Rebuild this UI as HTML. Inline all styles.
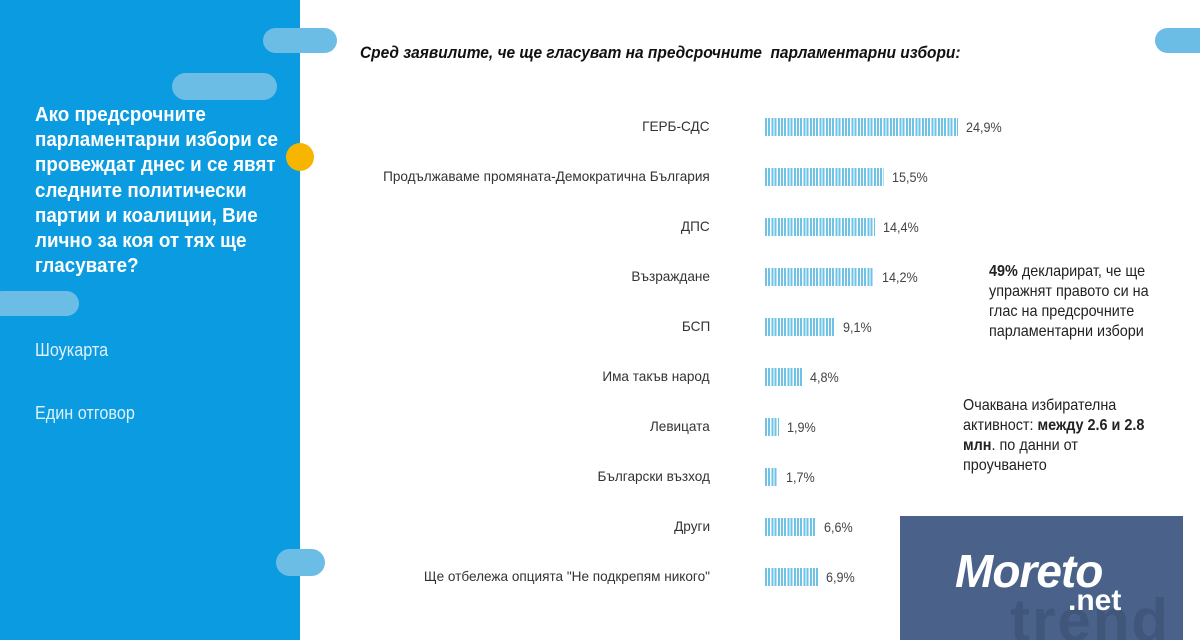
<!DOCTYPE html>
<html><head><meta charset="utf-8"><style>
html,body{margin:0;width:1200px;height:640px;overflow:hidden}
body{position:relative;background:#fff;font-family:"Liberation Sans",sans-serif}
.a{position:absolute}
.pill{position:absolute;background:#6cbde6;border-radius:14px}
.lbl{position:absolute;right:490px;font-size:14px;color:#333;white-space:nowrap;transform:scaleX(.97);transform-origin:right center}
.bar{position:absolute;left:765px;height:18px;background:repeating-linear-gradient(90deg,#6cc3e6 0 2px,#fff 2px 3.2px)}
.val{position:absolute;font-size:14px;color:#444;transform:scaleX(.9);transform-origin:left center}
.q{color:#fff;font-weight:bold;font-size:20px;line-height:25.2px;transform:scaleX(.94);transform-origin:left top;width:280px}
.side{color:#dff1fb;font-size:18px;transform:scaleX(.9);transform-origin:left top}
.note{font-size:16px;color:#222;line-height:20px;transform:scaleX(.9);transform-origin:left top}
</style></head><body>
<div class="a" style="left:0;top:0;width:300px;height:640px;background:#0a9be0"></div>
<div class="pill" style="left:263px;top:28px;width:74px;height:25px"></div>
<div class="pill" style="left:172px;top:73px;width:105px;height:27px"></div>
<div class="pill" style="left:-10px;top:291px;width:89px;height:25px"></div>
<div class="pill" style="left:276px;top:549px;width:49px;height:27px"></div>
<div class="pill" style="left:1155px;top:28px;width:60px;height:25px"></div>
<div class="a" style="left:286px;top:143px;width:28px;height:28px;border-radius:50%;background:#f7b500"></div>
<div class="a q" style="left:35px;top:103px">Ако предсрочните парламентарни избори се провеждат днес и се явят следните политически партии и коалиции, Вие лично за коя от тях ще гласувате?</div>
<div class="a side" style="left:35px;top:340px">Шоукарта</div>
<div class="a side" style="left:35px;top:403px">Един отговор</div>
<div class="a" style="left:360px;top:43px;font-size:17px;font-weight:bold;font-style:italic;color:#111;transform:scaleX(.91);transform-origin:left top;white-space:nowrap">Сред заявилите, че ще гласуват на предсрочните&nbsp; парламентарни избори:</div>

<div class="lbl" style="top:118px">ГЕРБ-СДС</div><div class="bar" style="top:118px;width:193px"></div><div class="val" style="top:119px;left:966px">24,9%</div>
<div class="lbl" style="top:168px">Продължаваме промяната-Демократична България</div><div class="bar" style="top:168px;width:119px"></div><div class="val" style="top:169px;left:892px">15,5%</div>
<div class="lbl" style="top:218px">ДПС</div><div class="bar" style="top:218px;width:110px"></div><div class="val" style="top:219px;left:883px">14,4%</div>
<div class="lbl" style="top:268px">Възраждане</div><div class="bar" style="top:268px;width:109px"></div><div class="val" style="top:269px;left:882px">14,2%</div>
<div class="lbl" style="top:318px">БСП</div><div class="bar" style="top:318px;width:70px"></div><div class="val" style="top:319px;left:843px">9,1%</div>
<div class="lbl" style="top:368px">Има такъв народ</div><div class="bar" style="top:368px;width:37px"></div><div class="val" style="top:369px;left:810px">4,8%</div>
<div class="lbl" style="top:418px">Левицата</div><div class="bar" style="top:418px;width:14px"></div><div class="val" style="top:419px;left:787px">1,9%</div>
<div class="lbl" style="top:468px">Български възход</div><div class="bar" style="top:468px;width:13px"></div><div class="val" style="top:469px;left:786px">1,7%</div>
<div class="lbl" style="top:518px">Други</div><div class="bar" style="top:518px;width:51px"></div><div class="val" style="top:519px;left:824px">6,6%</div>
<div class="lbl" style="top:568px">Ще отбележа опцията "Не подкрепям никого"</div><div class="bar" style="top:568px;width:53px"></div><div class="val" style="top:569px;left:826px">6,9%</div>

<div class="a note" style="left:989px;top:262px;width:204px"><b>49%</b> декларират, че ще упражнят правото си на глас на предсрочните парламентарни избори</div>
<div class="a note" style="left:963px;top:396px;width:222px">Очаквана избирателна активност: <b>между 2.6 и 2.8 млн</b>. по данни от проучването</div>

<div class="a" style="left:900px;top:516px;width:283px;height:124px;background:#4a6289;overflow:hidden">
<div class="a" style="left:110px;top:70px;font-size:60px;color:#40567a;font-weight:bold;letter-spacing:2px">trend</div>
<div class="a" style="left:55px;top:28px;font-size:46px;font-weight:bold;font-style:italic;color:#fff;letter-spacing:-1px">Moreto</div>
<div class="a" style="left:168px;top:68px;font-size:30px;font-weight:bold;color:#fff">.net</div>
</div>
</body></html>
